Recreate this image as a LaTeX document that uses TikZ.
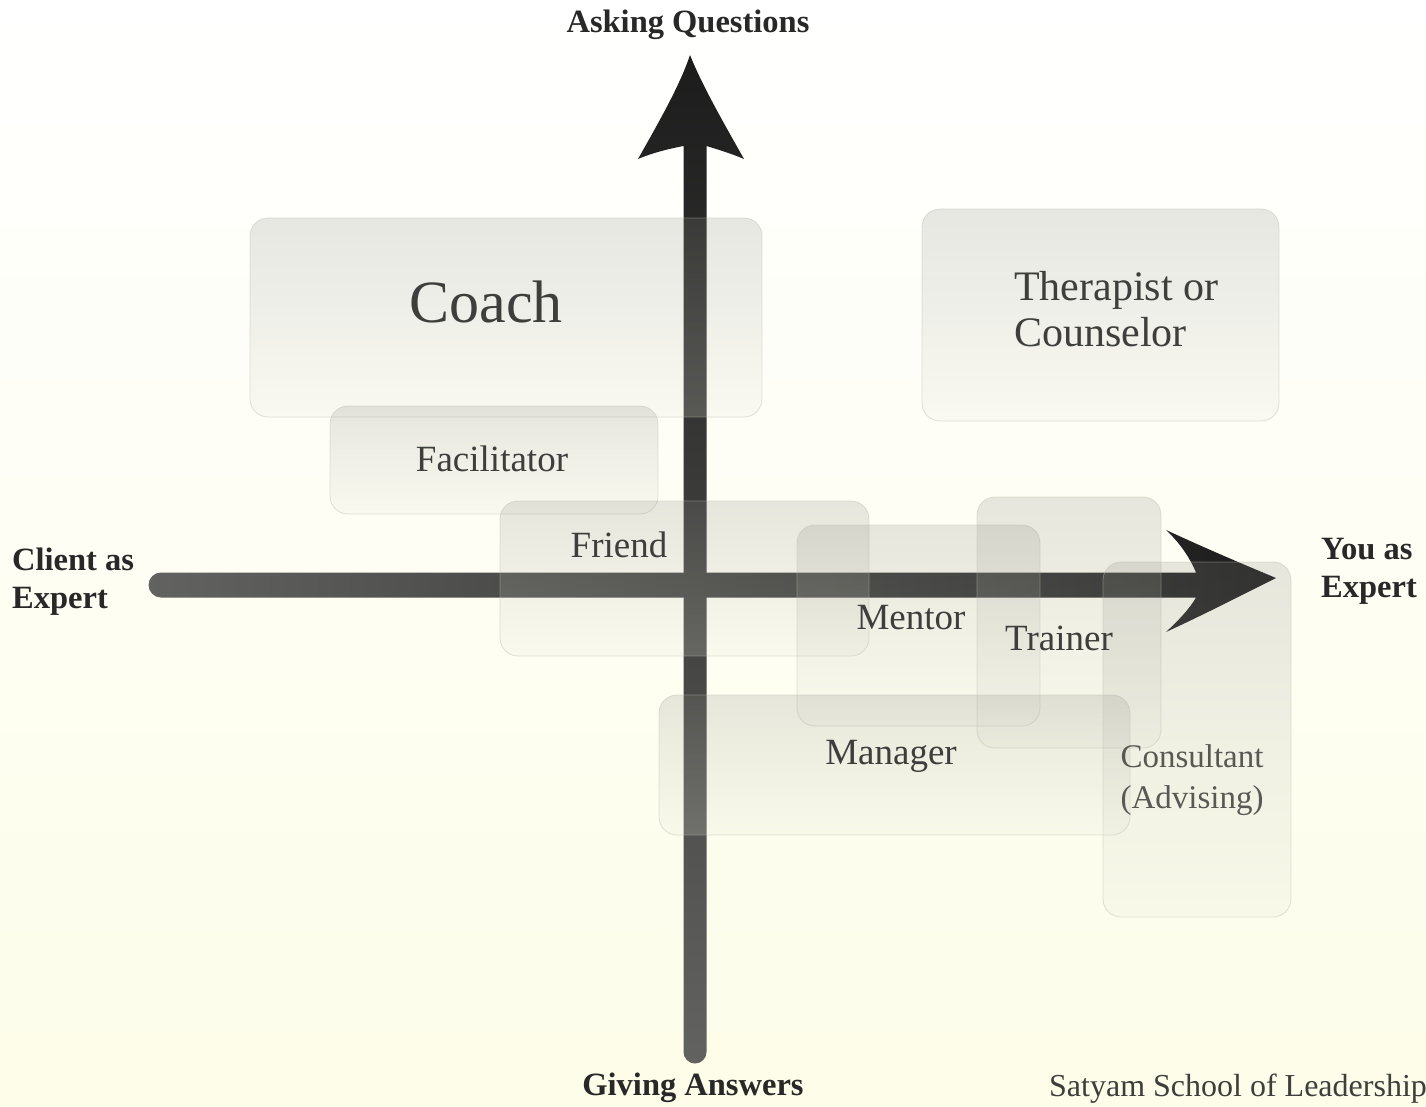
\documentclass[tikz,border=0pt]{standalone}
\usepackage{fontspec}
\usetikzlibrary{calc}
\setmainfont{Liberation Serif}
\definecolor{bgtop}{RGB}{255,255,255}
\definecolor{bgbottom}{RGB}{253,253,233}
\definecolor{boxtop}{RGB}{136,136,128}
\definecolor{boxbottom}{RGB}{232,232,220}
\definecolor{boxedge}{RGB}{190,190,180}
\definecolor{labelgray}{RGB}{62,62,60}
\definecolor{softgray}{RGB}{88,88,84}
\definecolor{axisgray}{RGB}{40,40,40}
\definecolor{arrowdark}{RGB}{28,28,28}
\definecolor{arrowlight}{RGB}{98,98,96}
\begin{document}
\begin{tikzpicture}[x=1pt,y=-1pt,
  rolebox/.style={rounded corners=18pt, inner sep=0pt, outer sep=0pt,
    top color=boxtop, bottom color=boxbottom, fill opacity=0.2,
    draw=boxedge, draw opacity=0.45, line width=0.8pt},
  rolelabel/.style={text=labelgray, font=\fontsize{37}{40}\selectfont,
    anchor=mid, inner sep=0pt},
  axislabel/.style={text=axisgray, font=\bfseries\fontsize{32.5}{38}\selectfont,
    inner sep=0pt, align=left}
]
% page and background wash
\useasboundingbox (0,0) rectangle (1426,1107);
\shade[top color=bgtop, bottom color=bgbottom] (0,0) rectangle (1426,1107);

% axis end points
\coordinate (vbot) at (695,1052);
\coordinate (vtip) at (690,55);
\coordinate (hleft) at (161,585);
\coordinate (htip) at (1276,578);

% vertical axis: asking questions (top) vs giving answers (bottom)
\shade[top color=arrowdark, bottom color=arrowlight]
  ($(vbot)+(-11.5,0)$) -- (683.5,146)
  .. controls (668,149) and (652,153) .. (638,159)
  .. controls (660,120) and (680,85) .. (vtip)
  .. controls (702,85) and (722,120) .. (744,159)
  .. controls (730,153) and (716,149) .. (706.5,146)
  -- ($(vbot)+(11.5,0)$) arc (0:180:11.5) -- cycle;

% horizontal axis: client as expert (left) vs you as expert (right)
\shade[left color=arrowlight, right color=arrowdark]
  ($(hleft)+(0,-12.5)$) -- (1196,572.5)
  .. controls (1190,558) and (1180,543) .. (1166,530)
  .. controls (1205,548) and (1240,563) .. (htip)
  .. controls (1240,596) and (1205,614) .. (1166,632)
  .. controls (1180,619) and (1190,608) .. (1196,597.5)
  -- ($(hleft)+(0,12.5)$) arc (90:270:12.5) -- cycle;

% role regions
\node[rolebox, minimum width=512pt, minimum height=199pt] (coach) at (506,317.5) {};
\node[rolebox, minimum width=357pt, minimum height=212pt] (therapist) at (1100.5,315) {};
\node[rolebox, minimum width=328pt, minimum height=108pt] (facilitator) at (494,460) {};
\node[rolebox, minimum width=369pt, minimum height=155pt] (friend) at (684.5,578.5) {};
\node[rolebox, minimum width=243pt, minimum height=201pt] (mentor) at (918.5,625.5) {};
\node[rolebox, minimum width=184pt, minimum height=251pt] (trainer) at (1069,622.5) {};
\node[rolebox, minimum width=471pt, minimum height=140pt] (manager) at (894.5,765) {};
\node[rolebox, minimum width=188pt, minimum height=355pt] (consultant) at (1197,739.5) {};

% role names
\node[rolelabel, font=\fontsize{60}{64}\selectfont] (coachtext) at (486,320) {Coach};
\node[text=labelgray, font=\fontsize{42}{46}\selectfont, inner sep=0pt,
  align=left, anchor=west] (therapisttext) at (1014,309) {Therapist or\\Counselor};
\node[rolelabel] (facilitatortext) at (492,469) {Facilitator};
\node[rolelabel] (friendtext) at (619,555) {Friend};
\node[rolelabel] (mentortext) at (911,627) {Mentor};
\node[rolelabel] (trainertext) at (1059,648) {Trainer};
\node[rolelabel] (managertext) at (891,762) {Manager};
\node[text=softgray, font=\fontsize{33}{41}\selectfont, inner sep=0pt,
  align=center] (consultanttext) at (1192,780) {Consultant\\(Advising)};

% axis captions
\node[axislabel, align=center] (asking) at (688,25) {Asking Questions};
\node[axislabel, align=center] (giving) at (693,1088) {Giving Answers};
\node[axislabel, anchor=west] (clientexpert) at (12,582) {Client as\\Expert};
\node[axislabel, anchor=west] (youexpert) at (1321,571) {You as\\Expert};
\node[text=labelgray, font=\fontsize{32}{36}\selectfont, inner sep=0pt]
  (school) at (1238,1089) {Satyam School of Leadership};
\end{tikzpicture}
\end{document}
